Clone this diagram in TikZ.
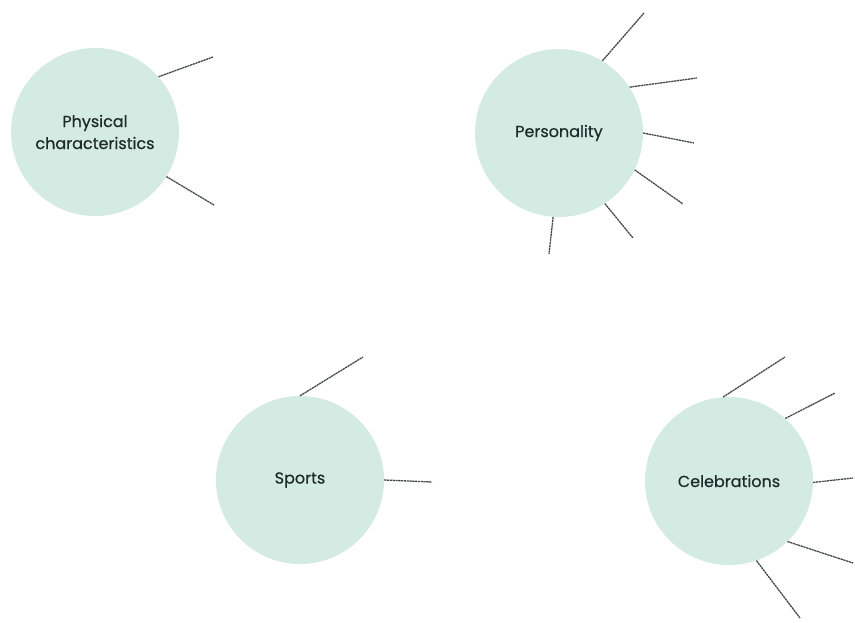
\documentclass[tikz,border=0pt]{standalone}
\usepackage{fontspec}
\setmainfont{Poppins}[FakeBold=0.5]
\usepackage{xcolor}
\usepackage{tikz}
\definecolor{mint}{HTML}{D4EBE3}
\definecolor{ink}{HTML}{1E2A27}

\begin{document}
\begin{tikzpicture}[x=1pt,y=-1pt,
		topic/.style={circle,fill=mint,minimum size=168pt,inner sep=0pt,align=center,
			font=\fontsize{16}{22}\selectfont,text=ink},
		ray/.style={draw=ink!85,line width=1.3pt,dash pattern=on 2.2pt off 0.6pt}]
			\useasboundingbox (0,0) rectangle (855,622);
			\node[topic] (phys) at (95,132) {Physical\\characteristics};
			\node[topic] (pers) at (559,133) {Personality};
			\node[topic] (sport) at (300,480) {Sports};
			\node[topic] (celeb) at (729,481) {Celebrations};
			\coordinate (ph1) at (213,57);
			\coordinate (ph2) at (214,205);
			\coordinate (pe1) at (644,13);
			\coordinate (pe2) at (697,78);
			\coordinate (pe3) at (694,143);
			\coordinate (pe4) at (683,204);
			\coordinate (pe5) at (633,238);
			\coordinate (pe6) at (549,254);
			\coordinate (sp1) at (363,357);
			\coordinate (sp2) at (432,482);
			\coordinate (ce1) at (785,357);
			\coordinate (ce2) at (835,393);
			\coordinate (ce3) at (853,478);
			\coordinate (ce4) at (853,563);
			\coordinate (ce5) at (800,618);
			\draw[ray] (phys.41) -- (ph1);
			\draw[ray] (phys.-32) -- (ph2);
			\draw[ray] (pers.59) -- (pe1);
			\draw[ray] (pers.33) -- (pe2);
			\draw[ray] (pers.0) -- (pe3);
			\draw[ray] (pers.-26) -- (pe4);
			\draw[ray] (pers.-57) -- (pe5);
			\draw[ray] (pers.-94) -- (pe6);
			\draw[ray] (sport.90) -- (sp1);
			\draw[ray] (sport.0) -- (sp2);
			\draw[ray] (celeb.94) -- (ce1);
			\draw[ray] (celeb.48) -- (ce2);
			\draw[ray] (celeb.-1) -- (ce3);
			\draw[ray] (celeb.-46) -- (ce4);
			\draw[ray] (celeb.-71) -- (ce5);
		\end{tikzpicture}
\end{document}
